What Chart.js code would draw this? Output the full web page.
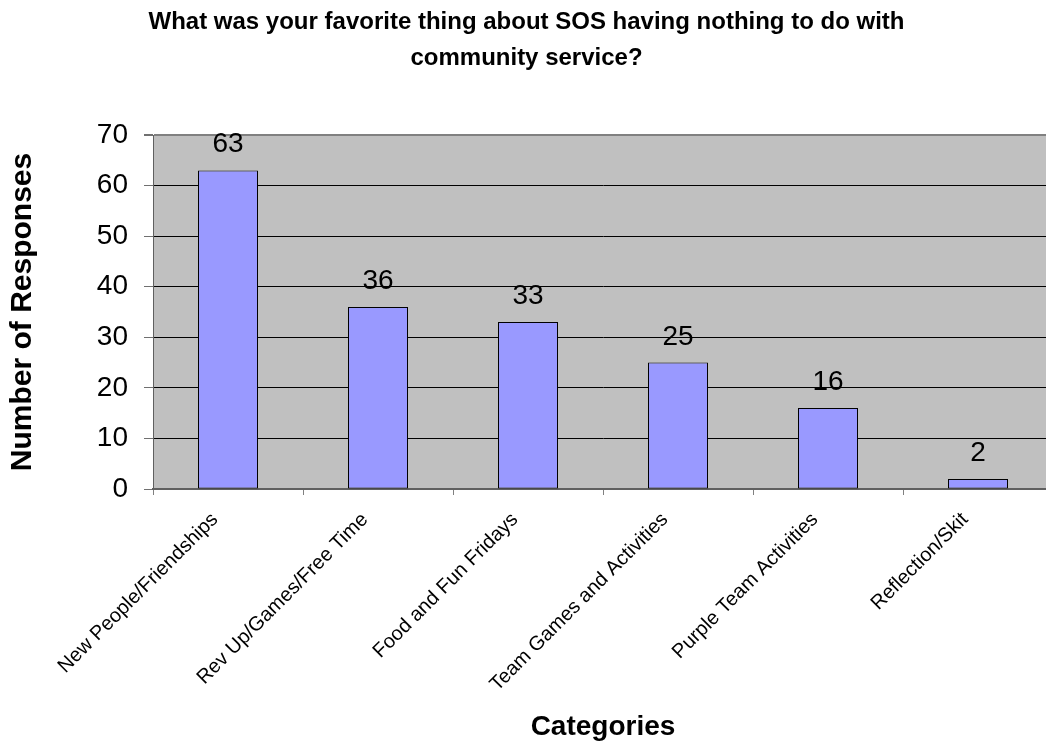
<!DOCTYPE html>
<html>
<head>
<meta charset="utf-8">
<script src="https://cdn.jsdelivr.net/npm/chart.js@4/dist/chart.umd.min.js"></script>
<style>
  html, body { margin: 0; padding: 0; background: #ffffff; overflow: hidden; }
  #wrap { width: 1060px; height: 744px; }
</style>
</head>
<body>
<div id="wrap"><canvas id="c" width="1060" height="744"></canvas></div>
<script>
const titleLines = ["What was your favorite thing about SOS having nothing to do with", "community service?"];
const categories = ["New People/Friendships", "Rev Up/Games/Free Time", "Food and Fun Fridays", "Team Games and Activities", "Purple Team Activities", "Reflection/Skit"];
const responses = [63, 36, 33, 25, 16, 2];
const yAxisTitle = "Number of Responses";
const xAxisTitle = "Categories";
const yMin = 0, yMax = 70, yStep = 10;

const FONT = '"Liberation Sans", Arial, Helvetica, sans-serif';
Chart.defaults.font.family = FONT;
Chart.defaults.color = '#000000';

const plotBg = {
  id: 'plotBg',
  beforeDraw(chart) {
    const a = chart.chartArea, ctx = chart.ctx;
    ctx.save();
    ctx.fillStyle = '#C0C0C0';
    ctx.fillRect(a.left, a.top, a.right - a.left, a.bottom - a.top);
    ctx.restore();
  }
};

const valueLabels = {
  id: 'valueLabels',
  afterDatasetsDraw(chart) {
    const ctx = chart.ctx;
    const meta = chart.getDatasetMeta(0);
    const data = chart.data.datasets[0].data;
    ctx.save();
    ctx.font = '28px ' + FONT;
    ctx.fillStyle = '#000';
    ctx.textAlign = 'center';
    ctx.textBaseline = 'alphabetic';
    meta.data.forEach((bar, i) => {
      ctx.fillText(String(data[i]), bar.x, bar.y - 18);
    });
    ctx.restore();
  }
};

new Chart(document.getElementById('c'), {
  type: 'bar',
  data: {
    labels: categories,
    datasets: [{
      data: responses,
      backgroundColor: '#9999FF',
      borderColor: '#000000',
      borderWidth: 1,
      borderSkipped: false,
      barPercentage: 0.4,
      categoryPercentage: 1.0
    }]
  },
  options: {
    responsive: false,
    animation: false,
    layout: { padding: { left: 0, right: 7, top: 0, bottom: 0 } },
    plugins: {
      legend: { display: false },
      tooltip: { enabled: false },
      title: {
        display: true,
        text: titleLines,
        color: '#000',
        font: { size: 24, weight: 'bold', lineHeight: 1.5 },
        padding: { top: 4.5, bottom: 58.5 }
      }
    },
    scales: {
      x: {
        offset: true,
        grid: {
          display: true,
          offset: true,
          drawOnChartArea: false,
          drawTicks: true,
          tickLength: 6,
          color: '#808080',
          lineWidth: 1
        },
        border: { display: true, color: '#606060', width: 2 },
        ticks: {
          autoSkip: false,
          minRotation: 45,
          maxRotation: 45,
          padding: 13,
          labelOffset: -13,
          color: '#000',
          font: { size: 20 }
        },
        title: {
          display: true,
          text: xAxisTitle,
          color: '#000',
          font: { size: 28, weight: 'bold', lineHeight: 1.2 },
          padding: { top: 0, bottom: 0 }
        },
        afterFit(scale) { scale.height = 255; }
      },
      y: {
        min: yMin,
        max: yMax,
        grid: {
          drawTicks: true,
          tickLength: 9,
          color: (ctx) => {
            const v = ctx.tick ? ctx.tick.value : null;
            if (v === yMin) return 'rgba(0,0,0,0)';
            if (v === yMax) return '#808080';
            return '#000000';
          },
          lineWidth: (ctx) => (ctx.tick && ctx.tick.value === yMax) ? 2 : 1,
          tickColor: '#707070'
        },
        border: { display: true, color: '#606060', width: 1 },
        ticks: {
          stepSize: yStep,
          padding: 16,
          color: '#000',
          font: { size: 28 }
        },
        title: {
          display: true,
          text: yAxisTitle,
          color: '#000',
          font: { size: 30, weight: 'bold', lineHeight: 1.2 },
          padding: { top: 4.5, bottom: 0 }
        },
        afterFit(scale) { scale.width = 153; }
      }
    }
  },
  plugins: [plotBg, valueLabels]
});
</script>
</body>
</html>
